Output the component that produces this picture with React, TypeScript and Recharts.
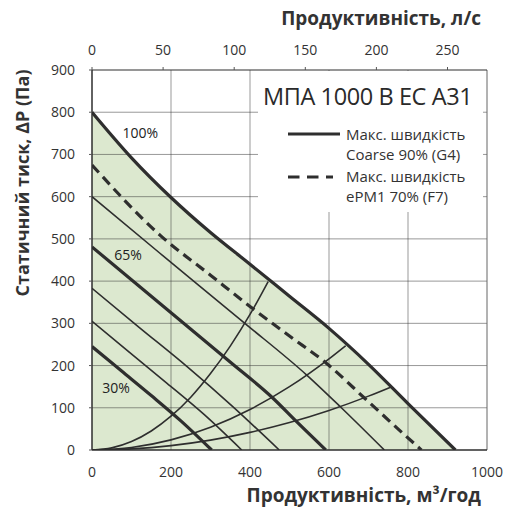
import { ComposedChart, XAxis, YAxis, Line, Area, ReferenceLine, ReferenceDot } from 'recharts';

// airflow in m³/h, pressure in Pa
const flowTicks = [0, 200, 400, 600, 800, 1000];
const litreTicks = [0, 50, 100, 150, 200, 250];
const pressureTicks = [0, 100, 200, 300, 400, 500, 600, 700, 800, 900];
const gridFlow = [200, 400, 600, 800];
const gridPressure = [100, 200, 300, 400, 500, 600, 700, 800];

const fan100 = [[0, 800], [100, 692], [200, 598], [300, 515], [400, 440], [500, 364], [600, 288], [700, 203], [800, 110], [920, 0]];
const filterF7 = [[0, 675], [172, 509], [300, 414], [400, 340], [500, 270], [594, 205], [691, 122], [797, 31], [834, 0]];
const fan80 = [[0, 600], [172, 466], [387, 300], [543, 178], [628, 103], [740, 0]];
const fan65 = [[0, 481], [172, 347], [248, 288], [349, 209], [459, 122], [518, 67], [592, 0]];
const fan50 = [[0, 383], [120, 290], [240, 198], [355, 104], [474, 0]];
const fan40 = [[0, 305], [95, 231], [190, 158], [285, 83], [379, 0]];
const fan30 = [[0, 245], [75, 187], [150, 129], [225, 69], [303, 0]];

const systemA = [[0, 0], [50, 5], [100, 20], [150, 45], [200, 80], [250, 125], [300, 181], [350, 246], [400, 321], [446, 399]];
const systemB = [[0, 0], [100, 6], [200, 24], [300, 54], [400, 96], [500, 150], [600, 216], [642, 247]];
const systemC = [[0, 0], [100, 2.6], [200, 10.4], [300, 23.4], [400, 41.7], [500, 65.1], [600, 93.7], [700, 127.6], [759, 150]];

const speedLabels = [
  { q: 122, p: 751, text: '100%' },
  { q: 91, p: 462, text: '65%' },
  { q: 61, p: 147, text: '30%' },
];

const FONT = '"Open Sans", "Noto Sans", sans-serif';
const INK = '#2e2e2e';
const TEXT = '#333';

const pts = (arr: number[][]) => arr.map(([q, p]) => ({ q, p }));

const tick = { fill: TEXT, fontSize: 14, fontFamily: FONT };

export default function App() {
  const curve = (data: number[][], width: number, dash?: string) => (
    <Line
      xAxisId="bottom"
      data={pts(data)}
      dataKey="p"
      type="monotone"
      stroke={INK}
      strokeWidth={width}
      strokeDasharray={dash}
      dot={false}
      activeDot={false}
      isAnimationActive={false}
    />
  );

  return (
    <div style={{ position: 'absolute', left: 0, top: 0, width: 512, height: 508, background: '#fff', fontFamily: FONT, color: TEXT }}>
      <ComposedChart width={512} height={508} margin={{ top: 40, right: 25, bottom: 28, left: 42 }}>
        <XAxis
          xAxisId="bottom"
          type="number"
          dataKey="q"
          domain={[0, 1000]}
          allowDataOverflow
          ticks={flowTicks}
          tick={tick}
          tickSize={4}
          tickMargin={13}
          tickLine={false}
          axisLine={{ stroke: INK, strokeWidth: 1.5 }}
          height={30}
        />
        <XAxis
          xAxisId="top"
          orientation="top"
          type="number"
          dataKey="q"
          domain={[0, 1000]}
          allowDataOverflow
          ticks={litreTicks.map((l) => l * 3.6)}
          tickFormatter={(v: number) => String(Math.round(v / 3.6))}
          tick={tick}
          tickSize={3}
          tickMargin={12}
          tickLine={{ stroke: '#555' }}
          axisLine={{ stroke: INK, strokeWidth: 1.2 }}
          height={30}
        />
        <YAxis
          type="number"
          domain={[0, 900]}
          allowDataOverflow
          ticks={pressureTicks}
          tick={tick}
          tickSize={3}
          tickMargin={14}
          tickLine={{ stroke: '#555' }}
          axisLine={{ stroke: INK, strokeWidth: 1.5 }}
          width={50}
        />
        <Area
          xAxisId="bottom"
          data={pts(fan100)}
          dataKey="p"
          type="monotone"
          stroke="none"
          fill="#dce8cf"
          fillOpacity={1}
          isAnimationActive={false}
          activeDot={false}
        />
        {gridFlow.map((x) => (
          <ReferenceLine key={'x' + x} xAxisId="bottom" x={x} stroke="#333" strokeOpacity={0.5} strokeWidth={1} />
        ))}
        {gridPressure.map((y) => (
          <ReferenceLine key={'y' + y} xAxisId="bottom" y={y} stroke="#333" strokeOpacity={0.5} strokeWidth={1} />
        ))}
        <ReferenceLine xAxisId="bottom" x={1000} stroke="#666" strokeWidth={1} />
        {curve(systemA, 1.6)}
        {curve(systemB, 1.6)}
        {curve(systemC, 1.6)}
        {curve(fan30, 3.2)}
        {curve(fan40, 1.6)}
        {curve(fan50, 1.6)}
        {curve(fan65, 3.2)}
        {curve(fan80, 1.6)}
        {curve(filterF7, 3.2, '10 6')}
        {curve(fan100, 3.2)}
        {speedLabels.map((s) => (
          <ReferenceDot
            key={s.text}
            xAxisId="bottom"
            x={s.q}
            y={s.p}
            r={1}
            fill="none"
            stroke="none"
            label={{ value: s.text, position: 'center', fill: '#222', fontSize: 14, fontFamily: FONT }}
          />
        ))}
      </ComposedChart>

      <div style={{ position: 'absolute', left: 258, top: 71, width: 225, height: 141, background: '#fff' }}>
        <div style={{ position: 'absolute', left: 5, top: 11, fontSize: 23.5, lineHeight: '28px', letterSpacing: -0.4, whiteSpace: 'nowrap', color: '#2a2a2a' }}>
          МПА 1000 B EC A31
        </div>
        <svg width={225} height={141} style={{ position: 'absolute', left: 0, top: 0 }}>
          <line x1={30} x2={82} y1={63} y2={63} stroke={INK} strokeWidth={3} />
          <line x1={30} x2={75} y1={106} y2={106} stroke={INK} strokeWidth={3} strokeDasharray="11.5 7.5" />
        </svg>
        <div style={{ position: 'absolute', left: 88, top: 53, fontSize: 15, lineHeight: '20px', whiteSpace: 'nowrap' }}>
          Макс. швидкість<br />Coarse 90% (G4)
        </div>
        <div style={{ position: 'absolute', left: 88, top: 95, fontSize: 15, lineHeight: '20px', whiteSpace: 'nowrap' }}>
          Макс. швидкість<br />ePM1 70% (F7)
        </div>
      </div>

      <div style={{ position: 'absolute', right: 31, top: 6, fontSize: 19, lineHeight: '24px', fontWeight: 700, whiteSpace: 'nowrap' }}>
        Продуктивність, л/с
      </div>
      <div style={{ position: 'absolute', right: 31, top: 483, fontSize: 19, lineHeight: '24px', fontWeight: 700, whiteSpace: 'nowrap' }}>
        Продуктивність, м³/год
      </div>
      <div
        style={{
          position: 'absolute', left: 22 - 150, top: 183 - 12, width: 300, height: 24, textAlign: 'center',
          transform: 'rotate(-90deg)', fontSize: 18, lineHeight: '24px', fontWeight: 700, whiteSpace: 'nowrap',
        }}
      >
        Статичний тиск, ΔP (Па)
      </div>
    </div>
  );
}
